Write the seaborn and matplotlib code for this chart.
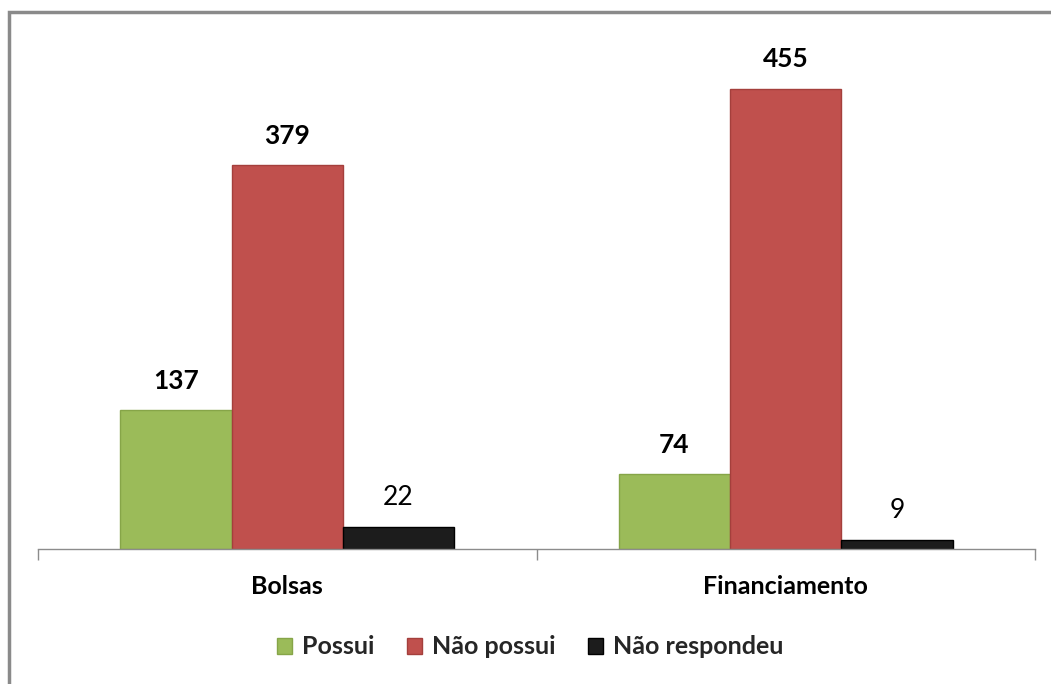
import matplotlib
matplotlib.use("Agg")
import matplotlib.pyplot as plt
import seaborn as sns
import pandas as pd
from matplotlib.patches import Rectangle, Patch

categories = ["Bolsas", "Financiamento"]
series = ["Possui", "Não possui", "Não respondeu"]
possui = [137, 74]
nao_possui = [379, 455]
nao_respondeu = [22, 9]

colors = {"Possui": "#9BBB59", "Não possui": "#C0504D", "Não respondeu": "#1C1C1C"}
edges = {"Possui": "#86A548", "Não possui": "#A43F3C", "Não respondeu": "#000000"}

rows = []
for s, vals in zip(series, [possui, nao_possui, nao_respondeu]):
    for c, v in zip(categories, vals):
        rows.append({"cat": c, "serie": s, "valor": v})
df = pd.DataFrame(rows)

sns.set_theme(style="white")
plt.rcParams["font.family"] = ["Lato", "DejaVu Sans"]

fig = plt.figure(figsize=(10.51, 6.84), dpi=100)
ax = fig.add_axes([38/1051, 1-549/684, (1035-38)/1051, (549-43)/684])

sns.barplot(data=df, x="cat", y="valor", hue="serie", order=categories,
            hue_order=series, palette=colors, width=0.67, gap=0,
            saturation=1, ax=ax, legend=False)

for container, s in zip(ax.containers, series):
    for bar in container:
        bar.set_edgecolor(edges[s])
        bar.set_linewidth(1.0)

bold = {"Possui": "bold", "Não possui": "bold", "Não respondeu": "normal"}
for container, s in zip(ax.containers, series):
    for bar in container:
        h = bar.get_height()
        ax.annotate(f"{int(h)}", (bar.get_x() + bar.get_width()/2, h),
                    xytext=(0, 21), textcoords="offset points",
                    ha="center", va="center", fontsize=19,
                    fontweight=bold[s], color="black")

ax.set_xlim(-0.5, 1.5)
ax.set_ylim(0, 500)
for sp in ["top", "right", "left"]:
    ax.spines[sp].set_visible(False)
ax.spines["bottom"].set_color("#8C8C8C")
ax.spines["bottom"].set_linewidth(1.0)
ax.set_yticks([])
ax.set_xlabel("")
ax.set_ylabel("")
ax.set_xticks([0, 1])
ax.set_xticklabels(categories, fontsize=18, fontweight="bold", color="black")
ax.tick_params(axis="x", which="major", length=0, pad=19)
ax.set_xticks([-0.5, 0.5, 1.5], minor=True)
ax.tick_params(axis="x", which="minor", length=8, width=1.0, color="#8C8C8C",
               direction="out", bottom=True)

handles = [Patch(facecolor=colors[s], edgecolor=edges[s], label=s) for s in series]
fig.legend(handles=handles, loc="center", bbox_to_anchor=(530/1051, 1-647/684),
           ncol=3, frameon=False, prop={"weight": "bold", "size": 18},
           handlelength=0.6, handleheight=0.6, handletextpad=0.4,
           columnspacing=1.3)

fig.patches.append(Rectangle((9/1051, -0.1), 1.2, 1 - 12/684 + 0.1,
                             transform=fig.transFigure, fill=False,
                             edgecolor="#8A8A8A", linewidth=2.5))

fig.savefig("out.png", dpi=100)
